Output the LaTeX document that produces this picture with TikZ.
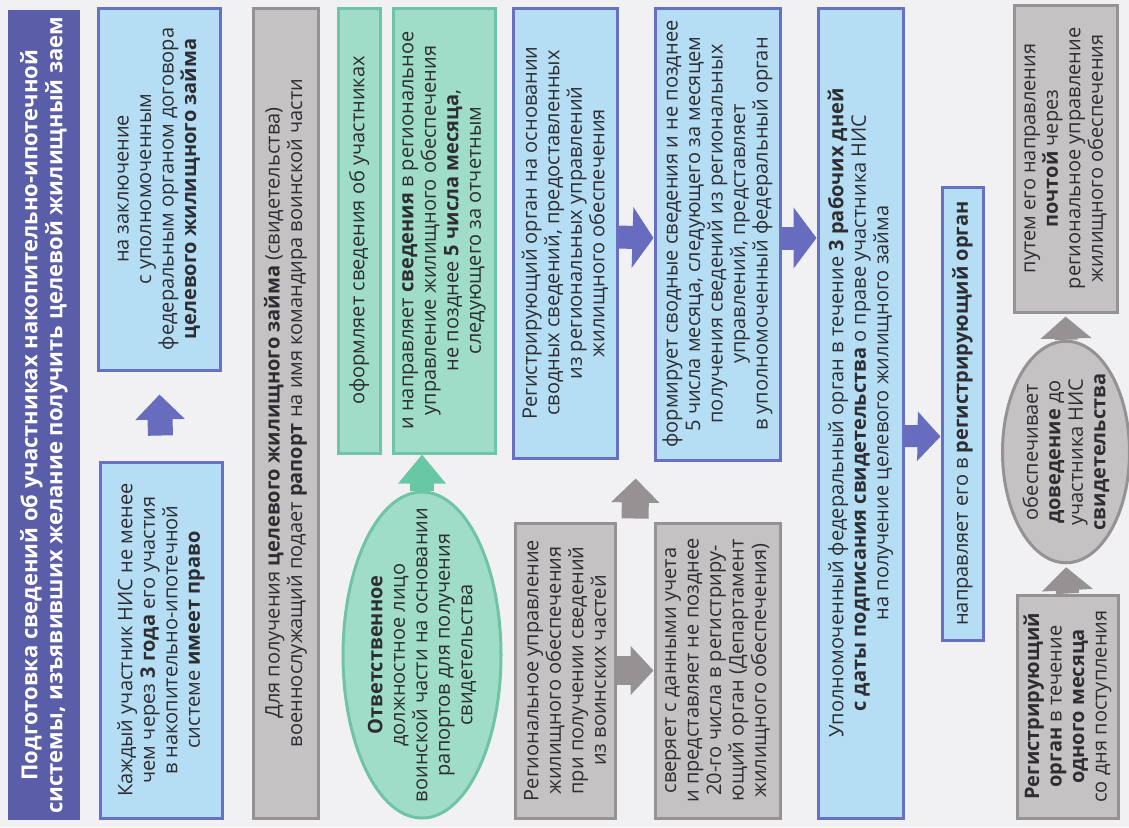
\documentclass[tikz,border=0pt]{standalone}
\usepackage{fontspec}
\setmainfont{Open Sans}
\definecolor{titleblue}{RGB}{90,93,168}
\definecolor{bluefill}{RGB}{181,221,243}
\definecolor{blueline}{RGB}{104,112,196}
\definecolor{bluetip}{RGB}{104,108,190}
\definecolor{greenfill}{RGB}{160,221,200}
\definecolor{greenline}{RGB}{110,196,165}
\definecolor{greentip}{RGB}{104,200,165}
\definecolor{grayfill}{RGB}{197,194,195}
\definecolor{grayline}{RGB}{150,146,147}
\definecolor{graytip}{RGB}{150,146,147}
\definecolor{textgray}{RGB}{45,45,50}
\definecolor{paper}{RGB}{241,241,244}
\usetikzlibrary{arrows.meta,shapes.geometric,calc}

\begin{document}
\begin{tikzpicture}[x=0.5pt,y=-0.5pt,
  every node/.style={font=\fontsize{10}{11.25}\selectfont, text=textgray},
  box/.style={rotate=90, draw, line width=1.5pt, align=center, inner sep=2pt},
  bluebox/.style={box, draw=blueline, fill=bluefill},
  greenbox/.style={box, draw=greenline, fill=greenfill},
  graybox/.style={box, draw=grayline, fill=grayfill},
  oval/.style={ellipse, inner xsep=-18pt, inner ysep=-2pt},
  fatarrow/.style args={#1/#2/#3}{line width=#1, -{Triangle[width=#2,length=#3]}},
  bluearrow/.style={draw=bluetip, fatarrow=#1},
  greenarrow/.style={draw=greentip, fatarrow=#1},
  grayarrow/.style={draw=graytip, fatarrow=#1}]
  \useasboundingbox[fill=paper] (0,0) rectangle (1129,827);

  % title
  \node[rotate=90, fill=titleblue, text=white, align=center, inner sep=0pt,
        minimum width=405pt, minimum height=36pt,
        font=\fontsize{11}{12.5}\selectfont\bfseries] (title) at (44,415)
    {Подготовка сведений об участниках накопительно-ипотечной\\
     системы, изъявивших желание получить целевой жилищный заем};

  % first column
  \node[bluebox, minimum width=178pt, minimum height=61pt] (right) at (161,640)
    {Каждый участник НИС не менее\\ чем через \textbf{3 года} его участия\\
     в накопительно-ипотечной\\ системе \textbf{имеет право}};
  \node[bluebox, minimum width=181pt, minimum height=61pt] (contract) at (159,189)
    {на заключение\\ с уполномоченным\\ федеральным органом договора\\
     \textbf{целевого жилищного займа}};

  \node[graybox, minimum width=405pt, minimum height=32.5pt] (report) at (285.5,413)
    {Для получения \textbf{целевого жилищного займа} (свидетельства)\\
     военнослужащий подает \textbf{рапорт} на имя командира воинской части};

  % military unit
  \node[greenbox, minimum width=222.5pt, minimum height=21pt] (form) at (359,230.5)
    {оформляет сведения об участниках};
  \node[greenbox, minimum width=222.5pt, minimum height=51pt] (send) at (444,230.5)
    {и направляет \textbf{сведения} в региональное\\ управление жилищного обеспечения\\
     не позднее \textbf{5 числа месяца},\\ следующего за отчетным};
  \node[greenbox, oval, minimum width=163pt, minimum height=79pt] (officer) at (422,655)
    {\textbf{Ответственное}\\ должностное лицо\\ воинской части на основании\\
     рапортов для получения\\ свидетельства};

  % regional and registering bodies
  \node[bluebox, minimum width=225pt, minimum height=52pt] (regsum) at (565,233)
    {Регистрирующий орган на основании\\ сводных сведений, предоставленных\\
     из региональных управлений\\ жилищного обеспечения};
  \node[graybox, minimum width=147.5pt, minimum height=50pt] (regional) at (565,670.5)
    {Региональное управление\\ жилищного обеспечения\\ при получении сведений\\
     из воинских частей};
  \node[graybox, minimum width=147.5pt, minimum height=62.5pt] (check) at (717.5,670.5)
    {сверяет с данными учета\\ и представляет не позднее\\ 20-го числа в регистриру-\\
     ющий орган (Департамент\\ жилищного обеспечения)};
  \node[bluebox, minimum width=226pt, minimum height=62.5pt] (summary) at (717.5,234)
    {формирует сводные сведения и не позднее\\ 5 числа месяца, следующего за месяцем\\
     получения сведений из региональных\\ управлений, представляет\\
     в уполномоченный федеральный орган};

  % federal body
  \node[bluebox, minimum width=405pt, minimum height=42.5pt] (federal) at (860.5,413)
    {Уполномоченный федеральный орган в течение \textbf{3 рабочих дней}\\
     \textbf{с даты подписания свидетельства} о праве участника НИС\\
     на получение целевого жилищного займа};
  \node[bluebox, minimum width=226.5pt, minimum height=20.5pt] (forward) at (962.5,413.5)
    {направляет его в \textbf{регистрирующий орган}};

  % delivery
  \node[graybox, minimum width=111.5pt, minimum height=50.5pt] (month) at (1067.5,706.5)
    {\textbf{Регистрирующий}\\ \textbf{орган} в течение\\ \textbf{одного месяца}\\
     со дня поступления};
  \node[graybox, ellipse, inner sep=0pt, minimum width=105pt, minimum height=63.5pt] (deliver) at (1066,452)
    {обеспечивает\\ \textbf{доведение} до\\ участника НИС\\ \textbf{свидетельства}};
  \node[graybox, minimum width=153.5pt, minimum height=51.5pt] (post) at (1065.5,158.5)
    {путем его направления\\ \textbf{почтой} через\\ региональное управление\\
     жилищного обеспечения};

  % arrows
  \coordinate (lowgap) at ($(regional.south)!0.5!(check.north)$);
  \coordinate (highgap) at ($(regsum.south)!0.5!(summary.north)$);
  \draw[bluearrow=12.5pt/24pt/12.5pt, shorten <=12.5pt, shorten >=11.5pt]
    (right.east) -- (contract.west);
  \draw[greenarrow=12pt/23pt/14.5pt] (officer.east) -- (officer.east |- send.west);
  \draw[bluearrow=11.5pt/30pt/10.5pt] ([yshift=-2pt]regsum.south) -- ([yshift=-2pt]summary.north);
  \draw[bluearrow=11.5pt/30pt/11.5pt] ([yshift=-2pt]summary.south) -- ([yshift=-2pt]summary.south -| federal.north);
  \draw[grayarrow=14.5pt/24pt/11.5pt] (regional.south) -- (check.north);
  \draw[grayarrow=13.5pt/23.5pt/12pt, shorten <=1.5pt, shorten >=8.5pt]
    (lowgap |- check.east) -- (highgap |- summary.west);
  \draw[bluearrow=11pt/24pt/11.5pt] ([yshift=-11.5pt]federal.south) -- ([yshift=-11.5pt]forward.north);
  \draw[grayarrow=11.5pt/25pt/11.5pt, shorten >=1.5pt] (month.east) -- (deliver.west);
  \draw[grayarrow=11.5pt/25pt/11pt, shorten >=1.5pt] (deliver.east) -- (post.west);
\end{tikzpicture}
\end{document}
